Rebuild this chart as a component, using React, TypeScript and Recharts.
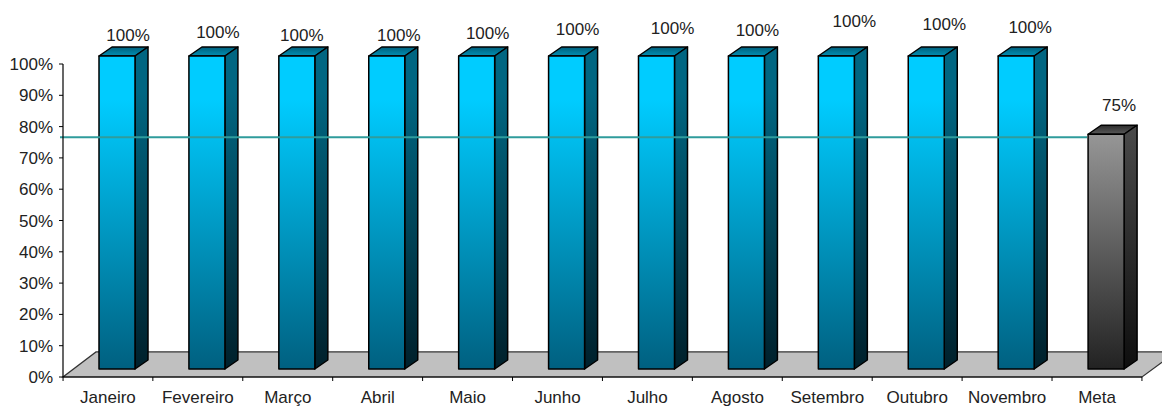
import React from "react";
import { ComposedChart, Bar, XAxis, YAxis, ReferenceArea, ReferenceLine, LabelList } from "recharts";

const categories = ["Janeiro", "Fevereiro", "Março", "Abril", "Maio", "Junho", "Julho", "Agosto", "Setembro", "Outubro", "Novembro", "Meta"];
const percentValues = [100, 100, 100, 100, 100, 100, 100, 100, 100, 100, 100, 75];
const yTicks = [0, 10, 20, 30, 40, 50, 60, 70, 80, 90, 100];
const targetValue = 75;
const floorDepthValue = 8;

// label placement quirks of the original picture (px, relative to the bar's centre/top)
const labelDx = [11, 11, 5, 12, 11, 11, 16, 11, 18, 18, 14, 13];
const labelDy = [0, -3, 0, 0, -2, -6, -7, -5, -14, -11, -8, -8];

const data = categories.map((name, i) => ({ name, value: percentValues[i] }));

const FONT = '"Liberation Sans", Arial, sans-serif';
const TEXT = "#222";
const DX = 9;
const DY = 8;
const DEPTH_X = 13;
const DEPTH_Y = 9;
const BAND = 89.8;

const Bar3D = (props: any) => {
  const { x, y, width, height, index } = props;
  const id = index === 11 ? "g" : "b";
  const l = x + DX;
  const t = y - DY;
  const r = l + width;
  const b = t + height;
  return (
    <g stroke="#000" strokeWidth={1.5} strokeLinejoin="round">
      <polygon points={`${l},${t} ${l + DEPTH_X},${t - DEPTH_Y} ${r + DEPTH_X},${t - DEPTH_Y} ${r},${t}`} fill={`url(#${id}Top)`} />
      <polygon points={`${r},${t} ${r + DEPTH_X},${t - DEPTH_Y} ${r + DEPTH_X},${b - DEPTH_Y} ${r},${b}`} fill={`url(#${id}Side)`} />
      <rect x={l} y={t} width={width} height={height} fill={`url(#${id}Front)`} />
    </g>
  );
};

const Floor = (props: any) => {
  const { x, y, width, height } = props;
  return (
    <polygon
      points={`${x},${y + height} ${x + width},${y + height} ${x + width + 34},${y} ${x + 33},${y}`}
      fill="#c0c0c0"
      stroke="#333"
      strokeWidth={1.2}
    />
  );
};

const TargetLine = (props: any) => {
  const y = props.y1 ?? props.y;
  const left = props.x1 ?? 63;
  return <line x1={left - 3} x2={1087} y1={y - 5} y2={y - 5} stroke="#2f9c9c" strokeWidth={2} />;
};

const XTick = (props: any) => {
  const { x, y, payload, index } = props;
  return (
    <g>
      {index === 0 && <line x1={x - BAND / 2} x2={x - BAND / 2} y1={y} y2={y + 4} stroke="#000" />}
      <line x1={x + BAND / 2} x2={x + BAND / 2} y1={y} y2={y + 4} stroke="#000" />
      <text x={x} y={y + 26} textAnchor="middle" fontFamily={FONT} fontSize={17} fill={TEXT}>
        {payload.value}
      </text>
    </g>
  );
};

const BarLabel = (props: any) => {
  const { x, y, width, index, value } = props;
  return (
    <text
      x={x + width / 2 + DX + labelDx[index]}
      y={y - DY - 15 + labelDy[index]}
      textAnchor="middle"
      fontFamily={FONT}
      fontSize={17}
      fill={TEXT}
    >
      {value}%
    </text>
  );
};

export default function App() {
  return (
    <div style={{ position: "absolute", left: 0, top: 0, width: 1162, height: 407, overflow: "hidden", background: "#fff" }}>
      <ComposedChart
        width={1162}
        height={407}
        data={data}
        margin={{ top: 64, right: 20, bottom: 0, left: 0 }}
        barCategoryGap={0}
        style={{ overflow: "hidden" }}
      >
        <defs>
          <linearGradient id="bFront" x1="0" y1="0" x2="0" y2="1">
            <stop offset="0" stopColor="#00ccff" />
            <stop offset="0.14" stopColor="#00ccff" />
            <stop offset="1" stopColor="#006080" />
          </linearGradient>
          <linearGradient id="bSide" x1="0" y1="0" x2="0" y2="1">
            <stop offset="0" stopColor="#006682" />
            <stop offset="0.14" stopColor="#006682" />
            <stop offset="1" stopColor="#00202b" />
          </linearGradient>
          <linearGradient id="bTop" x1="0" y1="0" x2="0" y2="1">
            <stop offset="0" stopColor="#005f7c" />
            <stop offset="1" stopColor="#0090b4" />
          </linearGradient>
          <linearGradient id="gFront" x1="0" y1="0" x2="0" y2="1">
            <stop offset="0" stopColor="#969696" />
            <stop offset="1" stopColor="#222222" />
          </linearGradient>
          <linearGradient id="gSide" x1="0" y1="0" x2="0" y2="1">
            <stop offset="0" stopColor="#4a4a4a" />
            <stop offset="1" stopColor="#0e0e0e" />
          </linearGradient>
          <linearGradient id="gTop" x1="0" y1="0" x2="0" y2="1">
            <stop offset="0" stopColor="#2c2c2c" />
            <stop offset="1" stopColor="#5a5a5a" />
          </linearGradient>
        </defs>
        <XAxis
          dataKey="name"
          height={30}
          interval={0}
          axisLine={{ stroke: "#000", strokeWidth: 1.2 }}
          tickLine={false}
          tickSize={0}
          tickMargin={0}
          tick={<XTick />}
        />
        <YAxis
          width={63}
          domain={[0, 100]}
          ticks={yTicks}
          interval={0}
          tickSize={4}
          axisLine={{ stroke: "#000", strokeWidth: 1.2 }}
          tickLine={{ stroke: "#000" }}
          tickMargin={6}
          tickFormatter={(v: number) => `${v}%`}
          tick={{ fontFamily: FONT, fontSize: 17, fill: TEXT }}
        />
        <ReferenceArea y1={0} y2={floorDepthValue} shape={<Floor />} />
        <Bar dataKey="value" barSize={36} isAnimationActive={false} shape={<Bar3D />}>
          <LabelList dataKey="value" content={<BarLabel />} />
        </Bar>
        <ReferenceLine y={targetValue} shape={<TargetLine />} />
      </ComposedChart>
    </div>
  );
}
